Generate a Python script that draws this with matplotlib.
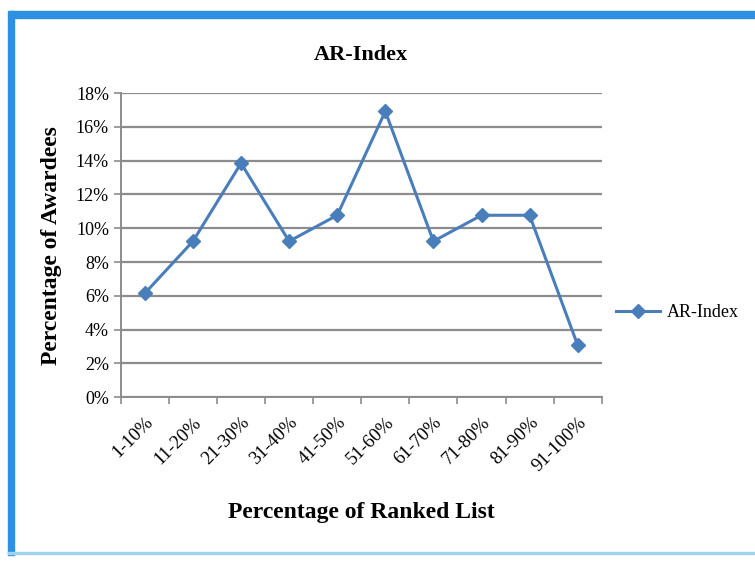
import numpy as np
import matplotlib
matplotlib.use('Agg')
import matplotlib.pyplot as plt
from matplotlib.patches import Rectangle
from matplotlib.ticker import FuncFormatter, FixedLocator

#data (share of awardees per rank bucket)
categories = ['1-10%', '11-20%', '21-30%', '31-40%', '41-50%',
              '51-60%', '61-70%', '71-80%', '81-90%', '91-100%']
ar_index = [6.15, 9.23, 13.85, 9.23, 10.77, 16.92, 9.23, 10.77, 10.77, 3.08]

plt.rcParams['font.family'] = ['Liberation Serif', 'DejaVu Serif']

fig = plt.figure(figsize=(7.55, 5.61), dpi=100)
fig.patch.set_facecolor('white')

#screenshot frame: blue band on top and left, thin line at bottom
fig.patches.append(Rectangle((0.013, 0.968), 0.987, 0.012, transform=fig.transFigure,
                             color='#2E8FE3', zorder=0))
fig.patches.append(Rectangle((0.011, 0.01), 0.008, 0.97, transform=fig.transFigure,
                             color='#2E8FE3', zorder=0))
fig.patches.append(Rectangle((0.011, 0.012), 0.989, 0.004, transform=fig.transFigure,
                             color='#9FD3F0', zorder=0))

ax = fig.add_axes([0.160, 0.292, 0.637, 0.542])
x = np.arange(len(categories))
ax.plot(x, ar_index, color='#4A7EBB', linewidth=2.2, marker='D', markersize=7,
        markerfacecolor='#4A7EBB', markeredgecolor='#4A7EBB', label='AR-Index')

ax.set_xlim(-0.5, len(categories) - 0.5)
ax.set_ylim(0, 18)
ax.set_yticks(np.arange(0, 19, 2))
ax.yaxis.set_major_formatter(FuncFormatter(lambda v, p: '%d%%' % v))
ax.grid(axis='y', color='#8C8C8C', linewidth=1.6)
ax.set_axisbelow(True)

#ticks sit between categories, labels centred under points
ax.set_xticks(x)
ax.set_xticklabels(categories, rotation=45, ha='right', rotation_mode='anchor', fontsize=13.5)
ax.xaxis.set_minor_locator(FixedLocator(np.arange(-0.5, len(categories), 1)))
ax.tick_params(axis='x', which='major', length=0, pad=12)
ax.tick_params(axis='x', which='minor', length=5, color='#8C8C8C', width=1.2)
ax.tick_params(axis='y', labelsize=13, length=5, color='#8C8C8C', width=1.2)

for side in ['top', 'right']:
    ax.spines[side].set_visible(False)
for side in ['left', 'bottom']:
    ax.spines[side].set_color('#8C8C8C')
    ax.spines[side].set_linewidth(1.4)

ax.set_title('AR-Index', fontsize=16, fontweight='bold', pad=24)
ax.set_ylabel('Percentage of Awardees', fontsize=17, fontweight='bold', labelpad=10)
ax.set_xlabel('Percentage of Ranked List', fontsize=17, fontweight='bold', labelpad=20)

fig.legend(loc='center left', bbox_to_anchor=(0.795, 0.443), frameon=False,
           fontsize=13, handlelength=2.4, handletextpad=0.4)

fig.savefig('out.png', dpi=100)
